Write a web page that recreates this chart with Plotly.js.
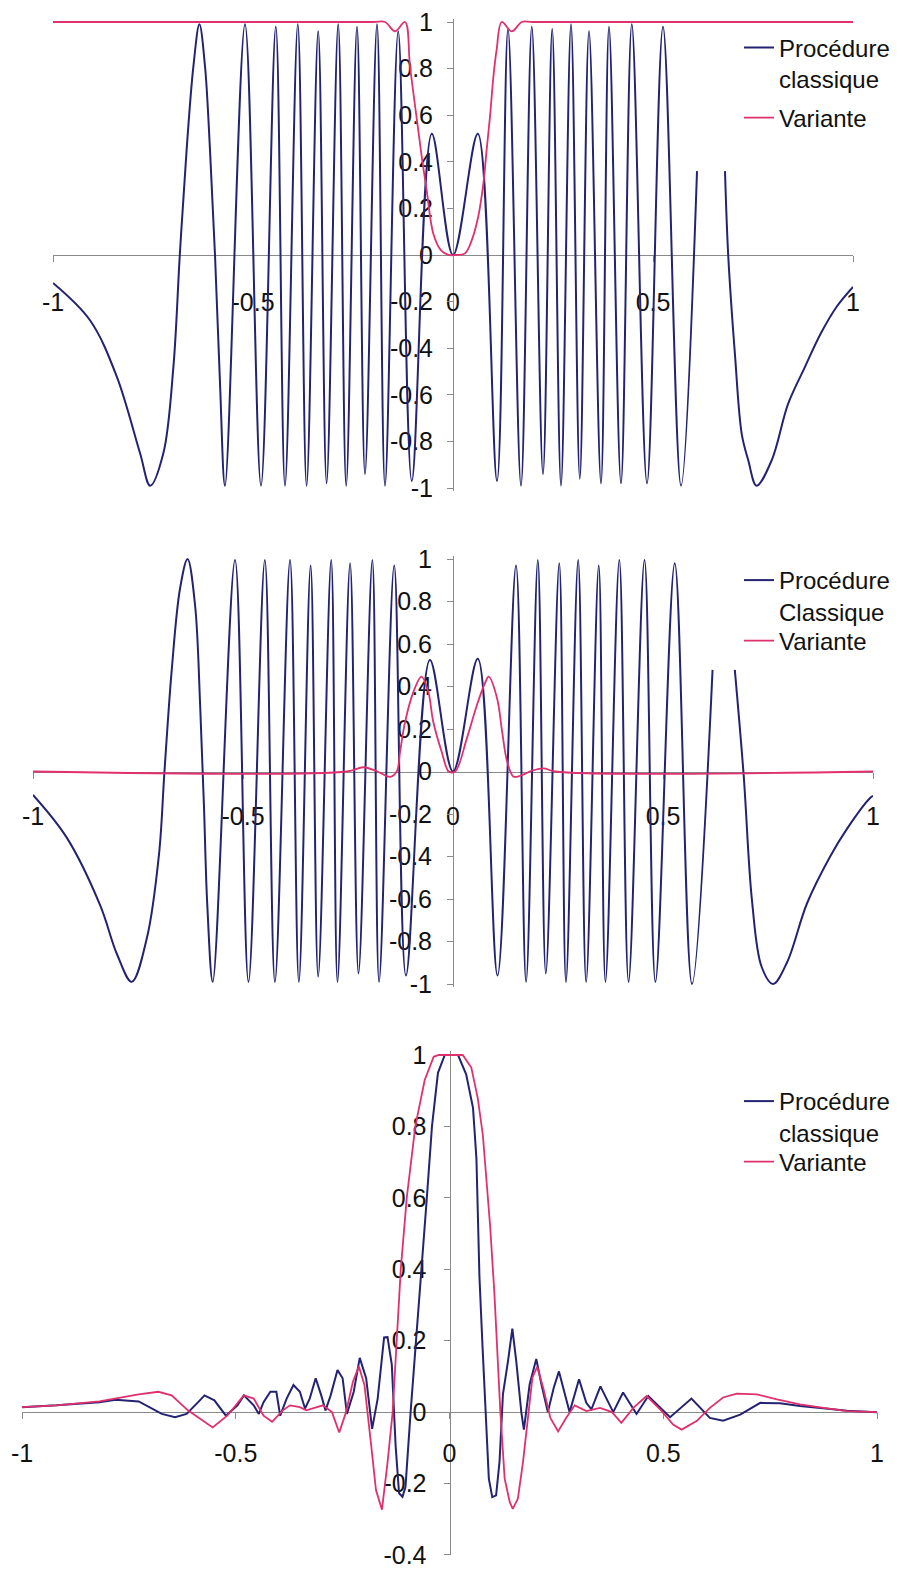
<!DOCTYPE html>
<html>
<head>
<meta charset="utf-8">
<script src="https://cdn.plot.ly/plotly-3.0.1.min.js"></script>
<style>html,body{margin:0;padding:0;background:#fff;}#chart{width:897px;height:1577px;}</style>
</head>
<body>
<div id="chart"></div>
<script>
// ---------------- DATA ----------------
var xTickVals = [-1, -0.5, 0, 0.5, 1];
var xTickText = ["-1", "-0.5", "0", "0.5", "1"];
var yTickVals12 = [-1, -0.8, -0.6, -0.4, -0.2, 0, 0.2, 0.4, 0.6, 0.8, 1];
var yTickText12 = ["-1", "-0.8", "-0.6", "-0.4", "-0.2", "0", "0.2", "0.4", "0.6", "0.8", "1"];
var yTickVals3 = [-0.4, -0.2, 0, 0.2, 0.4, 0.6, 0.8, 1];
var yTickText3 = ["-0.4", "-0.2", "0", "0.2", "0.4", "0.6", "0.8", "1"];

var nameBlue1 = "Procédure<br>classique";
var nameBlue2 = "Procédure<br>Classique";
var nameBlue3 = "Procédure<br>classique";
var nameMag = "Variante";

// Panel 1
var p1BlueX = [-1, -0.9075, -0.841, -0.7825, -0.757, -0.724, -0.699, -0.683, -0.666, -0.649, -0.634, -0.62, -0.6075, -0.595, -0.5825, -0.57,
  -0.52, -0.48, -0.443, -0.42, -0.388, -0.366, -0.337, -0.316, -0.287, -0.267, -0.24, -0.22, -0.19, -0.17, -0.137, -0.103, -0.053, 0,
  0.062, 0.11, 0.1375, 0.17, 0.197, 0.225, 0.248, 0.27, 0.295, 0.317, 0.34, 0.37, 0.39, 0.42, 0.447, 0.485, 0.525, 0.57, 0.61, null,
  0.68, 0.688, 0.705, 0.722, 0.738, 0.759, 0.797, 0.8375, 0.88, 0.92, 0.96, 1];
var p1BlueY = [-0.12, -0.28, -0.52, -0.85, -0.99, -0.85, -0.48, 0, 0.45, 0.81, 0.99, 0.81, 0.45, 0, -0.55, -0.99,
  0.99, -0.99, 0.98, -0.99, 0.99, -0.99, 0.96, -0.98, 0.99, -0.99, 0.98, -0.94, 0.99, -0.99, 0.96, -0.97, 0.52, 0,
  0.52, -0.97, 0.97, -0.99, 0.98, -0.94, 0.97, -0.99, 0.99, -0.96, 0.96, -0.98, 0.98, -0.98, 0.99, -0.98, 0.98, -0.99, 0.36, null,
  0.36, 0, -0.43, -0.77, -0.88, -0.99, -0.88, -0.64, -0.48, -0.335, -0.22, -0.137];
var p1MagX = [-1, -0.2, -0.17, -0.145, -0.12, -0.1075, -0.091, -0.078, -0.066, -0.049, -0.03, -0.01,
  0.005, 0.03, 0.047, 0.063, 0.076, 0.084, 0.0925, 0.101, 0.109, 0.122, 0.147, 0.172, 0.2, 1];
var p1MagY = [1, 1, 1, 0.96, 1, 0.81, 0.59, 0.42, 0.28, 0.09, 0.02, 0,
  0, 0.007, 0.064, 0.164, 0.308, 0.45, 0.594, 0.765, 0.88, 1, 0.96, 1, 1, 1];

// Panel 2
var p2BlueX = [-1, -0.92, -0.84, -0.8, -0.765, -0.729, -0.7, -0.687, -0.67, -0.65, -0.632, -0.614, -0.602, -0.593, -0.585, -0.572,
  -0.519, -0.487, -0.448, -0.424, -0.388, -0.367, -0.339, -0.321, -0.29, -0.275, -0.245, -0.225, -0.192, -0.176, -0.14, -0.112, -0.055, 0,
  0.059, 0.106, 0.15, 0.174, 0.202, 0.221, 0.253, 0.269, 0.298, 0.317, 0.347, 0.363, 0.396, 0.418, 0.456, 0.482, 0.528, 0.569, 0.618, null,
  0.671, 0.692, 0.712, 0.735, 0.762, 0.795, 0.843, 0.898, 0.938, 0.993, 1];
var p2BlueY = [-0.11, -0.31, -0.63, -0.86, -0.99, -0.785, -0.39, 0, 0.47, 0.86, 1, 0.78, 0.31, -0.16, -0.63, -0.99,
  0.995, -0.99, 0.995, -0.99, 0.995, -0.99, 0.97, -0.965, 0.995, -0.99, 0.98, -0.95, 0.995, -0.99, 0.97, -0.96, 0.525, 0,
  0.53, -0.96, 0.97, -0.99, 0.995, -0.95, 0.98, -0.99, 0.995, -0.99, 0.97, -0.99, 0.995, -0.99, 0.995, -0.99, 0.98, -1, 0.478, null,
  0.478, -0.016, -0.61, -0.92, -1, -0.9, -0.62, -0.4, -0.27, -0.125, -0.115];
var p2MagX = [-1, -0.253, -0.2135, -0.18, -0.15, -0.134, -0.126, -0.114, -0.094, -0.075, -0.059, -0.047, -0.027, -0.01,
  0.005, 0.033, 0.057, 0.077, 0.085, 0.105, 0.117, 0.129, 0.144, 0.16, 0.19, 0.216, 0.243, 1];
var p2MagY = [0, 0, 0.02, 0, -0.025, 0, 0.093, 0.234, 0.376, 0.446, 0.376, 0.234, 0.093, 0,
  0, 0.156, 0.313, 0.42, 0.446, 0.344, 0.187, 0.046, -0.024, -0.02, 0.005, 0.015, 0, 0];

// Panel 3
var p3BlueX = [-1, -0.919, -0.819, -0.781, -0.727, -0.673, -0.642, -0.615, -0.588, -0.573, -0.55, -0.523, -0.496, -0.481, -0.458, -0.446,
  -0.435, -0.419, -0.405, -0.396, -0.381, -0.365, -0.35, -0.338, -0.327, -0.313, -0.3, -0.29, -0.278, -0.262, -0.25, -0.24, -0.224,
  -0.21, -0.195, -0.181, -0.168, -0.153, -0.145, -0.135, -0.126, -0.118, -0.11, -0.103, -0.091, -0.078, -0.066, -0.053, -0.041, -0.027, -0.011, 0,
  0.02, 0.039, 0.055, 0.063, 0.066, 0.07, 0.077, 0.084, 0.092, 0.1, 0.109, 0.117, 0.125, 0.137, 0.147, 0.156, 0.168, 0.174, 0.1875,
  0.203, 0.215, 0.23, 0.244, 0.256, 0.27, 0.281, 0.303, 0.32, 0.332, 0.353, 0.383, 0.406, 0.4375, 0.465, 0.516, 0.566, 0.609, 0.64,
  0.68, 0.727, 0.773, 0.82, 0.88, 0.93, 1];
var p3BlueY = [0.014, 0.019, 0.028, 0.035, 0.03, -0.005, -0.014, -0.005, 0.028, 0.047, 0.033, -0.01, 0.019, 0.047, 0.019, -0.005,
  0.028, 0.057, 0.057, -0.01, 0.038, 0.076, 0.057, 0.01, 0.038, 0.095, 0.047, 0.005, 0.047, 0.118, 0.095, -0.005, 0.057,
  0.152, 0.095, -0.047, 0.038, 0.209, 0.21, 0.133, -0.095, -0.227, -0.237, -0.21, 0, 0.2, 0.4, 0.6, 0.8, 0.95, 1, 1,
  1, 0.946, 0.852, 0.71, 0.569, 0.38, 0.19, 0, -0.186, -0.238, -0.233, -0.139, 0.05, 0.144, 0.234, 0.144, 0, -0.049, 0.078,
  0.149, 0.078, 0, 0.069, 0.114, 0.05, 0, 0.092, 0.026, 0.008, 0.072, 0, 0.055, -0.005, 0.045, -0.014, 0.038, -0.016, -0.024,
  -0.007, 0.026, 0.025, 0.017, 0.01, 0.004, 0];
var p3MagX = [-1, -0.919, -0.819, -0.781, -0.727, -0.681, -0.65, -0.612, -0.554, -0.52, -0.481, -0.458, -0.435, -0.415, -0.39,
  -0.373, -0.35, -0.335, -0.31, -0.296, -0.275, -0.258, -0.242, -0.226, -0.212, -0.199, -0.183, -0.172, -0.158, -0.145, -0.133,
  -0.124, -0.114, -0.1, -0.08, -0.058, -0.037, -0.025, 0,
  0.031, 0.051, 0.066, 0.078, 0.086, 0.095, 0.105, 0.113, 0.119, 0.129, 0.141, 0.148, 0.16, 0.172, 0.184, 0.194, 0.205, 0.219,
  0.236, 0.254, 0.273, 0.293, 0.32, 0.352, 0.38, 0.402, 0.43, 0.461, 0.495, 0.523, 0.543, 0.578, 0.609, 0.64, 0.672, 0.719,
  0.766, 0.82, 0.875, 0.93, 1];
var p3MagY = [0.014, 0.019, 0.03, 0.038, 0.05, 0.057, 0.047, 0.005, -0.043, -0.01, 0.047, 0.038, -0.01, -0.027, 0.005,
  0.019, 0.014, 0.005, 0.014, 0.019, 0, -0.057, 0, 0.085, 0.128, 0.076, -0.095, -0.218, -0.273, -0.142, 0,
  0.2, 0.4, 0.6, 0.8, 0.93, 0.995, 1, 1,
  1, 0.965, 0.88, 0.776, 0.663, 0.522, 0.333, 0.144, 0, -0.186, -0.252, -0.271, -0.242, -0.139, 0, 0.097, 0.127, 0.069,
  -0.016, -0.054, -0.016, 0.019, 0.003, 0.012, 0, -0.03, 0.012, 0.045, 0.005, -0.035, -0.049, -0.025, 0.012, 0.041, 0.052, 0.05,
  0.036, 0.022, 0.012, 0.003, 0];

// ---------------- LAYOUT HELPERS ----------------
var W = 897, H = 1577;
var BLUE = "#232372", MAG = "#e0306e", AXC = "#8a8a8a";
var FONT = "Liberation Sans, Arial, sans-serif";
var FS = 25;
var LFS = 24;

// panel geometry: pixel positions for reference values
var panels = [
  {xA: 53, xB: 853, yTopPx: 22, yTopV: 1, yBotPx: 488, yBotV: -1, yr: [-1.012, 1.012], yt: yTickVals12, ytt: yTickText12, xso: 19, yso: 9},
  {xA: 33, xB: 873, yTopPx: 559, yTopV: 1, yBotPx: 984, yBotV: -1, yr: [-1.012, 1.012], yt: yTickVals12, ytt: yTickText12, xso: 16, yso: 10},
  {xA: 22, xB: 877, yTopPx: 1055, yTopV: 1, yBotPx: 1555, yBotV: -0.4, yr: [-0.4, 1.01], yt: yTickVals3, ytt: yTickText3, xso: 13, yso: 12}
];

function yPx(p, v) { return p.yTopPx + (v - p.yTopV) * (p.yBotPx - p.yTopPx) / (p.yBotV - p.yTopV); }
function xPx(p, v) { return p.xA + (v + 1) * (p.xB - p.xA) / 2; }

var layout = {
  width: W, height: H,
  margin: {l: 0, r: 0, t: 0, b: 0, pad: 0},
  paper_bgcolor: "#ffffff", plot_bgcolor: "rgba(0,0,0,0)",
  showlegend: true,
  font: {family: FONT, size: FS, color: "#111"}
};

panels.forEach(function (p, i) {
  var k = i === 0 ? "" : String(i + 1);
  var yDomTop = yPx(p, p.yr[1]), yDomBot = yPx(p, p.yr[0]);
  layout["xaxis" + k] = {
    domain: [p.xA / W, p.xB / W], range: [-1, 1], anchor: "free",
    position: 1 - yPx(p, 0) / H,
    tickmode: "array", tickvals: xTickVals, ticktext: xTickText,
    ticks: "outside", ticklen: 6, tickwidth: 1, tickcolor: AXC,
    showline: true, linecolor: AXC, linewidth: 1,
    showgrid: false, zeroline: false, layer: "below traces",
    tickfont: {family: FONT, size: FS, color: "#111"}, ticklabelstandoff: p.xso,
    fixedrange: true
  };
  layout["yaxis" + k] = {
    domain: [1 - yDomBot / H, 1 - yDomTop / H], range: p.yr, anchor: "free",
    position: xPx(p, 0) / W,
    tickmode: "array", tickvals: p.yt, ticktext: p.ytt,
    ticks: "outside", ticklen: 6, tickwidth: 1, tickcolor: AXC,
    showline: true, linecolor: AXC, linewidth: 1,
    showgrid: false, zeroline: false, layer: "below traces",
    tickfont: {family: FONT, size: FS, color: "#111"}, ticklabelstandoff: p.yso,
    fixedrange: true
  };
});

// legends (one per entry, positioned beside each panel)
var legendSpecs = [
  {key: "legend", yc: 63.5}, {key: "legend2", yc: 118},
  {key: "legend3", yc: 596}, {key: "legend4", yc: 641},
  {key: "legend5", yc: 1117}, {key: "legend6", yc: 1162}
];
legendSpecs.forEach(function (s) {
  layout[s.key] = {
    x: 739 / W, xanchor: "left", y: 1 - s.yc / H, yanchor: "middle",
    bgcolor: "rgba(0,0,0,0)", borderwidth: 0, valign: "top",
    font: {family: FONT, size: LFS, color: "#111"}, tracegroupgap: 0
  };
});

function tr(x, y, name, color, width, xa, ya, leg, shape) {
  return {
    type: "scatter", mode: "lines", x: x, y: y, name: name,
    xaxis: xa, yaxis: ya, legend: leg, connectgaps: false,
    line: {color: color, width: width, shape: shape, smoothing: 1},
    hoverinfo: "skip"
  };
}

var data = [
  tr(p1BlueX, p1BlueY, nameBlue1, BLUE, 2, "x", "y", "legend", "spline"),
  tr(p1MagX, p1MagY, nameMag, MAG, 1.8, "x", "y", "legend2", "spline"),
  tr(p2BlueX, p2BlueY, nameBlue2, BLUE, 2, "x2", "y2", "legend3", "spline"),
  tr(p2MagX, p2MagY, nameMag, MAG, 1.8, "x2", "y2", "legend4", "spline"),
  tr(p3BlueX, p3BlueY, nameBlue3, BLUE, 2, "x3", "y3", "legend5", "linear"),
  tr(p3MagX, p3MagY, nameMag, MAG, 1.8, "x3", "y3", "legend6", "linear")
];

Plotly.newPlot("chart", data, layout, {staticPlot: true, displayModeBar: false});
</script>
</body>
</html>
